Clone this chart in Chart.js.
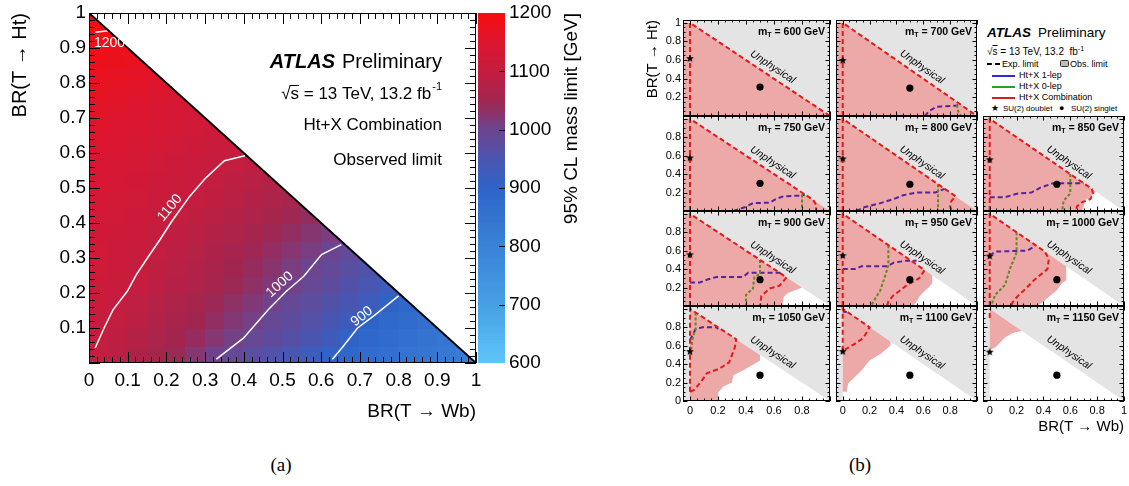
<!DOCTYPE html>
<html lang="en">
<head>
<meta charset="utf-8">
<title>T quark mass limits vs BR(T → Ht), BR(T → Wb)</title>
<script src="https://cdn.jsdelivr.net/npm/chart.js@4.4.1/dist/chart.umd.min.js"></script>
<style>
  html, body { margin: 0; padding: 0; background: #fff; }
  body { position: relative; width: 1129px; height: 486px; overflow: hidden;
         font-family: 'Liberation Sans', Arial, Helvetica, sans-serif; color: #000; }
  canvas { position: absolute; }
  .txt { position: absolute; white-space: nowrap; line-height: 1; }
  .caption { position: absolute; top: 455px; font-family: 'Liberation Serif', 'Times New Roman', serif;
             font-size: 19px; line-height: 1; transform: translateX(-50%); }
  .lline { position: absolute; height: 0; }
</style>
</head>
<body>
<canvas id="limitMap" width="600" height="440" style="left:0;top:0"></canvas>

<!-- legend of panel (b) -->
<div class="txt" style="left:987px;top:26px;font-size:13.5px"><b><i>ATLAS</i></b><span style="margin-left:7px">Preliminary</span></div>
<div class="txt" style="left:987px;top:47px;font-size:10px">√<span style="text-decoration:overline">s</span> = 13 TeV, 13.2&nbsp; fb<span style="font-size:7px;position:relative;top:-4px">-1</span></div>
<div class="lline" style="left:987px;top:63px;width:13px;border-top:2px dashed #000"></div>
<div class="txt" style="left:1002px;top:59.5px;font-size:9px">Exp. limit</div>
<div style="position:absolute;left:1060px;top:60px;width:7px;height:5px;background:#bdbdbd;border:1px solid #333;border-radius:1.5px"></div>
<div class="txt" style="left:1070px;top:59.5px;font-size:9px">Obs. limit</div>
<div class="lline" style="left:992px;top:75px;width:23px;border-top:2px solid #2b2bd8"></div>
<div class="txt" style="left:1019px;top:71px;font-size:9px">Ht+X 1-lep</div>
<div class="lline" style="left:992px;top:86px;width:23px;border-top:2px solid #22a322"></div>
<div class="txt" style="left:1019px;top:82px;font-size:9px">Ht+X 0-lep</div>
<div class="lline" style="left:992px;top:97px;width:23px;border-top:2px solid #d42020"></div>
<div class="txt" style="left:1019px;top:93px;font-size:9px">Ht+X Combination</div>
<div class="txt" style="left:991px;top:104px;font-size:9px">★</div>
<div class="txt" style="left:1003px;top:104.5px;font-size:8px">SU(2) doublet</div>
<div class="txt" style="left:1059px;top:104px;font-size:9px">●</div>
<div class="txt" style="left:1071px;top:104.5px;font-size:8px">SU(2) singlet</div>

<div class="caption" style="left:281px">(a)</div>
<div class="caption" style="left:860px">(b)</div>

<script>
// ---------- panel (a): observed mass limit over the BR plane ----------
const wbTicks = [0, 0.1, 0.2, 0.3, 0.4, 0.5, 0.6, 0.7, 0.8, 0.9, 1];
const htTicks = [0.1, 0.2, 0.3, 0.4, 0.5, 0.6, 0.7, 0.8, 0.9, 1];
const massTicks = [600, 700, 800, 900, 1000, 1100, 1200];
const binWidth = 0.05;
// one row per BR(T->Ht) bin (0-0.05, 0.05-0.1, ...), values per BR(T->Wb) bin, GeV
const limitGrid = [
    [1098, 1085, 1070, 1058, 1045, 1025, 1003, 990, 975, 960, 945, 925, 905, 890, 875, 865, 850, 840, 830, 820],
    [1102, 1090, 1078, 1066, 1054, 1040, 1025, 1008, 992, 980, 966, 950, 932, 905, 888, 875, 862, 850, 840],
    [1108, 1096, 1085, 1074, 1062, 1050, 1037, 1022, 1006, 992, 978, 964, 948, 930, 903, 885, 872, 860],
    [1114, 1101, 1091, 1080, 1069, 1058, 1046, 1033, 1019, 1004, 990, 976, 962, 946, 928, 905, 888],
    [1118, 1108, 1100, 1090, 1079, 1068, 1057, 1045, 1032, 1019, 1005, 992, 978, 962, 945, 925],
    [1122, 1112, 1102, 1094, 1085, 1075, 1064, 1052, 1040, 1027, 1013, 1000, 988, 973, 958],
    [1125, 1117, 1109, 1098, 1089, 1080, 1070, 1059, 1048, 1037, 1025, 1012, 1001, 988],
    [1128, 1120, 1112, 1102, 1094, 1086, 1077, 1068, 1058, 1047, 1036, 1024, 1013],
    [1132, 1125, 1118, 1110, 1102, 1094, 1086, 1077, 1068, 1058, 1048, 1038],
    [1136, 1129, 1122, 1115, 1108, 1101, 1094, 1086, 1077, 1068, 1058],
    [1140, 1133, 1127, 1120, 1113, 1106, 1099, 1092, 1084, 1076],
    [1145, 1138, 1132, 1125, 1118, 1111, 1105, 1098, 1093],
    [1150, 1144, 1138, 1132, 1125, 1118, 1112, 1106],
    [1156, 1150, 1144, 1138, 1131, 1124, 1118],
    [1162, 1156, 1150, 1144, 1137, 1130],
    [1168, 1163, 1157, 1151, 1145],
    [1175, 1170, 1164, 1158],
    [1183, 1178, 1172],
    [1192, 1186],
    [1200],
];
const contour1200 = [[0.016, 0.945], [0.05, 0.949]];
const contour1100 = [[0.016, 0.043], [0.039, 0.1], [0.062, 0.152], [0.099, 0.205], [0.122, 0.252], [0.154, 0.305],
    [0.185, 0.355], [0.214, 0.405], [0.26, 0.476], [0.302, 0.529], [0.35, 0.578], [0.403, 0.592]];
const contour1000 = [[0.329, 0.011], [0.399, 0.071], [0.463, 0.152], [0.51, 0.205], [0.555, 0.248], [0.601, 0.31], [0.652, 0.338]];
const contour900 = [[0.629, 0.011], [0.657, 0.048], [0.694, 0.1], [0.74, 0.138], [0.8, 0.192]];
const contourLabels = ['1200', '1100', '1000', '900'];
const contourLabelAt = [[0.053, 0.914], [0.209, 0.443], [0.493, 0.224], [0.705, 0.133]];
const physicalEdge = [[0, 1], [1, 0]];

// ---------- panel (b): exclusion per mass hypothesis ----------
const massPoints = [600, 700, 750, 800, 850, 900, 950, 1000, 1050, 1100, 1150];
const panelTicks = [0, 0.2, 0.4, 0.6, 0.8, 1];
const physicalRegion = [[0, 0], [0, 1], [1, 0]];
const unphysicalAt = [0.59, 0.525];
const doubletHt = [0.62, 0.6, 0.58, 0.57, 0.56, 0.56, 0.55, 0.545, 0.54, 0.54, 0.535];
const singletWb = 0.5;
const singletHt = [0.31, 0.3, 0.3, 0.29, 0.29, 0.285, 0.285, 0.285, 0.28, 0.28, 0.28];
const obsExcluded = [
    [[-0.05, 0], [-0.05, 1], [0, 1], [1, 0]],
    [[-0.05, 0], [-0.05, 1], [0, 1], [1, 0]],
    [[-0.05, 0], [-0.05, 1], [0, 1], [1, 0]],
    [[-0.05, 0], [-0.05, 1], [0, 1], [1, 0]],
    [[-0.05, 0], [-0.05, 1], [0, 1], [0.79, 0.21], [0.75, 0.15], [0.71, 0.12], [0.7, 0.05], [0.69, 0]],
    [[-0.05, 0], [-0.05, 1], [0, 1], [0.8, 0.2], [0.75, 0.17], [0.7, 0.14], [0.67, 0.1], [0.66, 0]],
    [[-0.05, 0], [-0.05, 1], [0, 1], [0.667, 0.333], [0.667, 0.25], [0.64, 0.2], [0.6, 0.15], [0.57, 0.1], [0.55, 0.05], [0.52, 0]],
    [[-0.05, 0], [-0.05, 1], [0, 1], [0.57, 0.43], [0.57, 0.28], [0.535, 0.245], [0.5, 0.17], [0.45, 0.11], [0.4, 0.05], [0.355, 0]],
    [[0, 0], [0, 1], [0.5, 0.5], [0.5, 0.44], [0.4, 0.35], [0.31, 0.28], [0.3, 0.2], [0.24, 0.16], [0.2, 0.09], [0.2, 0]],
    [[0, 0.1], [0, 1], [0.355, 0.645], [0.355, 0.6], [0.28, 0.51], [0.2, 0.44], [0.14, 0.33], [0.09, 0.26], [0.04, 0.19], [0.03, 0.1]],
    [[0, 0.56], [0, 1], [0.24, 0.76], [0.175, 0.74], [0.115, 0.69], [0.07, 0.62], [0.04, 0.58], [0.01, 0.56]],
];
const expComb = [
    [[0, 0], [0, 1], [1, 0]],
    [[0, 0], [0, 1], [1, 0]],
    [[0, 0], [0, 1], [0.88, 0.12], [0.9, 0.07], [0.9, 0]],
    [[0, 0], [0, 1], [0.84, 0.16], [0.81, 0.11], [0.8, 0.05], [0.81, 0]],
    [[0, 0], [0, 1], [0.76, 0.24], [0.77, 0.19], [0.75, 0.13], [0.68, 0.09], [0.65, 0.05], [0.64, 0]],
    [[0, 0], [0, 1], [0.69, 0.31], [0.64, 0.22], [0.57, 0.19], [0.51, 0.11], [0.5, 0]],
    [[0, 0], [0, 1], [0.61, 0.39], [0.57, 0.3], [0.48, 0.23], [0.42, 0.16], [0.38, 0.12], [0.34, 0.05], [0.33, 0]],
    [[0, 0], [0, 1], [0.41, 0.59], [0.44, 0.51], [0.43, 0.4], [0.33, 0.28], [0.27, 0.19], [0.21, 0.11], [0.17, 0.04], [0.16, 0]],
    [[0, 0.1], [0, 1], [0.33, 0.67], [0.32, 0.58], [0.28, 0.42], [0.21, 0.35], [0.12, 0.3], [0.08, 0.21], [0.03, 0.12], [0, 0.1]],
    [[0, 0.545], [0, 1], [0.2, 0.8], [0.16, 0.7], [0.14, 0.67], [0.09, 0.62], [0.02, 0.56], [0, 0.545]],
    [[0, 0.9], [0, 1]],
];
const exp1lep = [
    [],
    [[0.61, 0], [0.65, 0.06], [0.7, 0.1], [0.84, 0.11], [0.87, 0.12]],
    [[0.31, 0], [0.39, 0.04], [0.45, 0.085], [0.57, 0.09], [0.62, 0.135], [0.67, 0.16], [0.8, 0.167], [0.82, 0.18]],
    [[0.1, 0], [0.16, 0.04], [0.28, 0.085], [0.38, 0.13], [0.45, 0.17], [0.55, 0.2], [0.69, 0.2], [0.76, 0.24]],
    [[0, 0.15], [0.115, 0.15], [0.21, 0.19], [0.31, 0.2], [0.38, 0.255], [0.47, 0.3], [0.57, 0.3], [0.7, 0.3]],
    [[0, 0.255], [0.07, 0.255], [0.13, 0.29], [0.19, 0.315], [0.38, 0.315], [0.415, 0.36], [0.55, 0.36], [0.66, 0.36]],
    [[0, 0.4], [0.09, 0.4], [0.14, 0.43], [0.33, 0.43], [0.38, 0.47], [0.47, 0.49], [0.55, 0.49]],
    [[0, 0.545], [0.04, 0.59], [0.28, 0.6], [0.34, 0.65]],
    [[0, 0.66], [0.04, 0.78], [0.09, 0.8], [0.19, 0.8], [0.2, 0.78]],
    [[0, 0.97], [0.03, 0.965]],
    [],
];
const exp0lep = [
    [],
    [[0.85, 0.12], [0.86, 0.05], [0.88, 0]],
    [[0.8, 0.18], [0.8, 0]],
    [[0.71, 0.29], [0.71, 0]],
    [[0.6, 0.4], [0.6, 0.19], [0.55, 0.11], [0.54, 0]],
    [[0.5, 0.5], [0.5, 0.35], [0.46, 0.315], [0.45, 0.19], [0.4, 0.12], [0.4, 0]],
    [[0.34, 0.66], [0.34, 0.44], [0.31, 0.3], [0.28, 0.17], [0.25, 0.1], [0.21, 0]],
    [[0.2, 0.8], [0.2, 0.58], [0.15, 0.4], [0.115, 0.23], [0.04, 0.12], [0.01, 0]],
    [[0.04, 0.96], [0.04, 0.78], [0.02, 0.69], [0, 0.475]],
    [],
    [],
];

// ---------- styling / layout ----------
const FONT = "'Liberation Sans', Arial, Helvetica, sans-serif";
const paletteStops = [600, 700, 800, 900, 950, 1000, 1050, 1100, 1150, 1200];
const paletteRGB = [[94, 198, 249], [71, 160, 230], [58, 130, 216], [46, 100, 200], [74, 85, 176],
    [108, 69, 144], [160, 38, 80], [196, 29, 63], [220, 22, 48], [247, 13, 13]];
const PINK = '#eda8a8';
const GREY = '#e4e4e4';
const RED = '#e31a1a';
const PURPLE = '#5523a0';
const GREEN = '#5f8a1f';
const panelCol = [0, 1, 0, 1, 2, 0, 1, 2, 0, 1, 2];
const panelRow = [0, 0, 1, 1, 1, 2, 2, 2, 3, 3, 3];
const colLeft = [683, 830, 977];
const rowTop = [20, 116, 211, 306];
const rowHeight = [96, 95, 95, 95];
const frameWidth = 147;

(function () {
    Chart.defaults.font.family = FONT;
    Chart.defaults.color = '#000';
    Chart.defaults.animation = false;
    Chart.defaults.plugins.legend.display = false;
    Chart.defaults.plugins.tooltip.enabled = false;

    const toXY = (pts) => pts.map(([x, y]) => ({ x, y }));
    const fmt = (v) => String(Number(v.toFixed(2)));

    const colorFor = (v) => {
        let i = 0;
        while (i < paletteStops.length - 2 && v > paletteStops[i + 1]) i++;
        const t = Math.min(1, Math.max(0, (v - paletteStops[i]) / (paletteStops[i + 1] - paletteStops[i])));
        const a = paletteRGB[i], b = paletteRGB[i + 1];
        const c = a.map((ch, k) => Math.round(ch + (b[k] - ch) * t));
        return `rgb(${c[0]},${c[1]},${c[2]})`;
    };

    // axis box sizes are fixed so the plot frames land where the figure has them
    const fixWidth = (w) => (s) => { s.width = w; s.paddingTop = 0; s.paddingBottom = 0; };
    const fixHeight = (h) => (s) => { s.height = h; s.paddingLeft = 0; s.paddingRight = 0; };
    const setTicks = (vals) => (s) => { s.ticks = vals.map((v) => ({ value: v })); };

    // ROOT-like frame with inward ticks on all four sides
    const framePlugin = (major, minor, majorLen, minorLen) => ({
        id: 'rootFrame',
        afterDatasetsDraw(chart) {
            const { ctx, chartArea: a, scales: { x, y } } = chart;
            const steps = (lo, hi) => {
                const out = [];
                for (let i = Math.ceil(lo / minor - 1e-6); i * minor <= hi + 1e-6; i++) out.push(i * minor);
                return out;
            };
            const isMajor = (v) => Math.abs(v / major - Math.round(v / major)) < 1e-6;
            ctx.save();
            ctx.strokeStyle = '#000';
            ctx.lineWidth = 1;
            ctx.beginPath();
            steps(x.min, x.max).forEach((v) => {
                const p = Math.round(x.getPixelForValue(v)) + 0.5;
                const len = isMajor(v) ? majorLen : minorLen;
                ctx.moveTo(p, a.bottom); ctx.lineTo(p, a.bottom - len);
                ctx.moveTo(p, a.top); ctx.lineTo(p, a.top + len);
            });
            steps(y.min, y.max).forEach((v) => {
                const p = Math.round(y.getPixelForValue(v)) + 0.5;
                const len = isMajor(v) ? majorLen : minorLen;
                ctx.moveTo(a.left, p); ctx.lineTo(a.left + len, p);
                ctx.moveTo(a.right, p); ctx.lineTo(a.right - len, p);
            });
            ctx.stroke();
            ctx.strokeRect(Math.round(a.left) + 0.5, Math.round(a.top) + 0.5, Math.round(a.width) - 1, Math.round(a.height) - 1);
            ctx.restore();
        },
    });

    const heatmapPlugin = {
        id: 'heatmap',
        beforeDatasetsDraw(chart) {
            const { ctx, scales: { x, y } } = chart;
            ctx.save();
            ctx.beginPath();
            ctx.moveTo(x.getPixelForValue(0), y.getPixelForValue(0));
            ctx.lineTo(x.getPixelForValue(0), y.getPixelForValue(1));
            ctx.lineTo(x.getPixelForValue(1), y.getPixelForValue(0));
            ctx.closePath();
            ctx.clip();
            limitGrid.forEach((row, j) => {
                row.forEach((val, i) => {
                    const x0 = Math.floor(x.getPixelForValue(i * binWidth));
                    const x1 = Math.ceil(x.getPixelForValue((i + 1) * binWidth));
                    const y0 = Math.ceil(y.getPixelForValue(j * binWidth));
                    const y1 = Math.floor(y.getPixelForValue((j + 1) * binWidth));
                    ctx.fillStyle = colorFor(val);
                    ctx.fillRect(x0, y1, x1 - x0 + 1, y0 - y1 + 1);
                });
            });
            ctx.restore();
        },
    };

    const colorBarPlugin = {
        id: 'colorBar',
        afterDatasetsDraw(chart) {
            const { ctx, chartArea: a, scales: { z } } = chart;
            const left = a.right + 2, right = a.right + 29;
            ctx.save();
            for (let v = z.min; v < z.max; v += 5) {
                const top = Math.floor(z.getPixelForValue(v + 5));
                const bottom = Math.ceil(z.getPixelForValue(v));
                ctx.fillStyle = colorFor(v + 2.5);
                ctx.fillRect(left, top, right - left, bottom - top);
            }
            ctx.strokeStyle = '#000';
            ctx.lineWidth = 1;
            ctx.beginPath();
            massTicks.slice(1, -1).forEach((v) => {
                const p = Math.round(z.getPixelForValue(v)) + 0.5;
                ctx.moveTo(right, p); ctx.lineTo(right - 6, p);
            });
            ctx.stroke();
            // colour-bar title, reading upwards, top aligned
            ctx.translate(572, a.top);
            ctx.rotate(-Math.PI / 2);
            ctx.fillStyle = '#000';
            ctx.font = `19px ${FONT}`;
            ctx.textAlign = 'right';
            ctx.textBaseline = 'middle';
            ctx.fillText('95% CL mass limit [GeV]', 0, 0);
            ctx.restore();
        },
    };

    const mapTextPlugin = {
        id: 'mapText',
        afterDraw(chart) {
            const { ctx, chartArea: a, scales: { x, y } } = chart;
            ctx.save();
            ctx.fillStyle = '#fff';
            ctx.font = `14px ${FONT}`;
            ctx.textAlign = 'center';
            ctx.textBaseline = 'middle';
            const angles = [0, -50, -42, -38];
            contourLabels.forEach((t, i) => {
                ctx.save();
                ctx.translate(x.getPixelForValue(contourLabelAt[i][0]), y.getPixelForValue(contourLabelAt[i][1]));
                ctx.rotate((angles[i] * Math.PI) / 180);
                ctx.fillText(t, 0, 0);
                ctx.restore();
            });

            const right = a.right - 34;
            ctx.fillStyle = '#000';
            ctx.textAlign = 'right';
            ctx.font = `20px ${FONT}`;
            ctx.fillText('Preliminary', right, a.top + 49);
            const pw = ctx.measureText('Preliminary').width;
            ctx.font = `italic bold 20px ${FONT}`;
            ctx.fillText('ATLAS', right - pw - 7, a.top + 49);

            ctx.font = `11px ${FONT}`;
            ctx.fillText('-1', right, a.top + 74);
            const sw = ctx.measureText('-1').width;
            ctx.font = `17px ${FONT}`;
            const main = '√s = 13 TeV, 13.2 fb';
            ctx.fillText(main, right - sw - 1, a.top + 81);
            const start = right - sw - 1 - ctx.measureText(main).width;
            const rw = ctx.measureText('√').width;
            const sW = ctx.measureText('s').width;
            ctx.beginPath();
            ctx.lineWidth = 1;
            ctx.moveTo(start + rw - 1, a.top + 72.5);
            ctx.lineTo(start + rw + sW, a.top + 72.5);
            ctx.stroke();
            ctx.fillText('Ht+X Combination', right, a.top + 112);
            ctx.fillText('Observed limit', right, a.top + 147);
            ctx.restore();
        },
    };

    const buildLimitMap = () => {
        const canvas = document.getElementById('limitMap');
        const line = (pts, color, width) => ({
            data: toXY(pts), showLine: true, fill: false, borderColor: color, borderWidth: width, pointRadius: 0,
        });
        new Chart(canvas, {
            type: 'scatter',
            data: {
                datasets: [
                    line(physicalEdge, '#000', 2),
                    line(contour1200, '#fff', 1.5),
                    line(contour1100, '#fff', 1.5),
                    line(contour1000, '#fff', 1.5),
                    line(contour900, '#fff', 1.5),
                ],
            },
            options: {
                responsive: false,
                events: [],
                layout: { padding: { top: 13, left: 0, right: 0, bottom: 0 } },
                scales: {
                    x: {
                        type: 'linear', min: 0, max: 1,
                        afterFit: fixHeight(77), afterBuildTicks: setTicks(wbTicks),
                        grid: { display: false, drawTicks: false }, border: { display: false },
                        ticks: { font: { size: 19 }, padding: 6, maxRotation: 0, autoSkip: false, callback: fmt },
                        title: { display: true, text: 'BR(T → Wb)', align: 'end', font: { size: 19 }, padding: { top: 0, bottom: 17 } },
                    },
                    y: {
                        type: 'linear', min: 0, max: 1,
                        afterFit: fixWidth(89), afterBuildTicks: setTicks(htTicks),
                        grid: { display: false, drawTicks: false }, border: { display: false },
                        ticks: { font: { size: 19 }, padding: 3, autoSkip: false, callback: fmt },
                        title: { display: true, text: 'BR(T → Ht)', align: 'end', font: { size: 20 }, padding: { top: 8, bottom: 0 } },
                    },
                    z: {
                        type: 'linear', axis: 'y', position: 'right', min: 600, max: 1200,
                        afterFit: fixWidth(124), afterBuildTicks: setTicks(massTicks),
                        grid: { display: false, drawTicks: false }, border: { display: false },
                        ticks: { font: { size: 19 }, padding: 33, autoSkip: false, callback: (v) => String(v) },
                    },
                },
            },
            plugins: [heatmapPlugin, framePlugin(0.1, 0.02, 11, 6), colorBarPlugin, mapTextPlugin],
        });
    };

    // star marker for the SU(2) doublet
    const starMarker = (() => {
        const c = document.createElement('canvas');
        const r = 4.2;
        c.width = 10; c.height = 10;
        const g = c.getContext('2d');
        g.translate(5, 5.4);
        g.beginPath();
        for (let i = 0; i < 10; i++) {
            const rad = i % 2 ? r * 0.42 : r;
            const ang = -Math.PI / 2 + (i * Math.PI) / 5;
            g.lineTo(rad * Math.cos(ang), rad * Math.sin(ang));
        }
        g.closePath();
        g.fillStyle = '#000';
        g.fill();
        return c;
    })();

    const greyBackground = {
        id: 'greyBackground',
        beforeDatasetsDraw(chart) {
            const { ctx, chartArea: a } = chart;
            ctx.save();
            ctx.fillStyle = GREY;
            ctx.fillRect(a.left, a.top, a.width, a.height);
            ctx.restore();
        },
    };

    const panelTextPlugin = (k) => ({
        id: 'panelText',
        afterDatasetsDraw(chart) {
            const { ctx, chartArea: a, scales: { x, y } } = chart;
            ctx.save();
            ctx.fillStyle = '#000';
            const ang = Math.atan2(y.getPixelForValue(0) - y.getPixelForValue(1), x.getPixelForValue(1) - x.getPixelForValue(0));
            ctx.translate(x.getPixelForValue(unphysicalAt[0]), y.getPixelForValue(unphysicalAt[1]));
            ctx.rotate(ang);
            ctx.font = `italic 10.5px ${FONT}`;
            ctx.textAlign = 'center';
            ctx.textBaseline = 'middle';
            ctx.fillText('Unphysical', 0, 0);
            ctx.restore();

            ctx.save();
            ctx.fillStyle = '#000';
            ctx.textBaseline = 'middle';
            ctx.textAlign = 'right';
            const right = a.right - 5, cy = a.top + 12;
            ctx.font = `bold 10.5px ${FONT}`;
            const rest = ` = ${massPoints[k]} GeV`;
            ctx.fillText(rest, right, cy);
            const rw = ctx.measureText(rest).width;
            ctx.font = `bold 7px ${FONT}`;
            ctx.fillText('T', right - rw, cy + 3);
            const tw = ctx.measureText('T').width;
            ctx.font = `bold 10.5px ${FONT}`;
            ctx.fillText('m', right - rw - tw, cy);
            ctx.restore();
        },
    });

    const buildPanel = (k) => {
        const col = panelCol[k], row = panelRow[k];
        const withY = col === 0, withX = row === 3;
        const padLeft = withY ? 43 : 0;
        const axisBottom = withX ? 40 : 0;
        const padBottom = withX ? 0 : 10;
        const canvas = document.createElement('canvas');
        canvas.width = padLeft + frameWidth + 6;
        canvas.height = 10 + rowHeight[row] + axisBottom + padBottom;
        canvas.style.left = `${colLeft[col] - padLeft}px`;
        canvas.style.top = `${rowTop[row] - 10}px`;
        document.body.appendChild(canvas);

        const yTicks = panelTicks.filter((v) => (v > 0 && v < 1) || (v === 1 && row === 0) || (v === 0 && row === 3));
        const xTicks = panelTicks.filter((v) => v < 1 || col === 2);
        const dashed = (pts, color, dash, order) => ({
            data: toXY(pts), showLine: true, fill: false, borderColor: color, borderWidth: 2,
            borderDash: dash, pointRadius: 0, order,
        });

        new Chart(canvas, {
            type: 'scatter',
            data: {
                datasets: [
                    { data: [{ x: 0, y: doubletHt[k] }], pointStyle: starMarker, pointRadius: 5, fill: false, order: 0 },
                    { data: [{ x: singletWb, y: singletHt[k] }], pointStyle: 'circle', pointRadius: 3.6,
                      backgroundColor: '#000', borderColor: '#000', borderWidth: 0, fill: false, order: 0 },
                    dashed(expComb[k], RED, [5, 3], 1),
                    dashed(exp0lep[k], GREEN, [3, 2], 2),
                    dashed(exp1lep[k], PURPLE, [5, 3], 3),
                    { data: toXY(obsExcluded[k]), showLine: true, fill: 'shape', backgroundColor: PINK,
                      borderWidth: 0, borderColor: 'rgba(0,0,0,0)', pointRadius: 0, order: 8 },
                    { data: toXY(physicalRegion), showLine: true, fill: 'shape', backgroundColor: '#fff',
                      borderWidth: 0, borderColor: 'rgba(0,0,0,0)', pointRadius: 0, order: 9 },
                ],
            },
            options: {
                responsive: false,
                events: [],
                layout: { padding: { top: 10, left: 0, right: 6, bottom: padBottom } },
                scales: {
                    x: {
                        type: 'linear', min: -0.05, max: 1, display: withX,
                        afterFit: fixHeight(axisBottom), afterBuildTicks: setTicks(xTicks),
                        grid: { display: false, drawTicks: false }, border: { display: false },
                        ticks: { font: { size: 11 }, padding: 3, maxRotation: 0, autoSkip: false, callback: fmt },
                        title: { display: k === 10, text: 'BR(T → Wb)', align: 'end', font: { size: 15 }, padding: { top: 0, bottom: 5 } },
                    },
                    y: {
                        type: 'linear', min: 0, max: 1.03, display: withY,
                        afterFit: fixWidth(padLeft), afterBuildTicks: setTicks(yTicks),
                        grid: { display: false, drawTicks: false }, border: { display: false },
                        ticks: { font: { size: 11 }, padding: 2, autoSkip: false, callback: fmt },
                        title: { display: k === 0, text: 'BR(T → Ht)', align: 'end', font: { size: 15 }, padding: { top: 4, bottom: 0 } },
                    },
                },
            },
            plugins: [greyBackground, framePlugin(0.2, 0.05, 4.5, 2.5), panelTextPlugin(k)],
        });
    };

    document.addEventListener('DOMContentLoaded', () => {
        buildLimitMap();
        massPoints.forEach((m, k) => buildPanel(k));
    });
})();
</script>
</body>
</html>
